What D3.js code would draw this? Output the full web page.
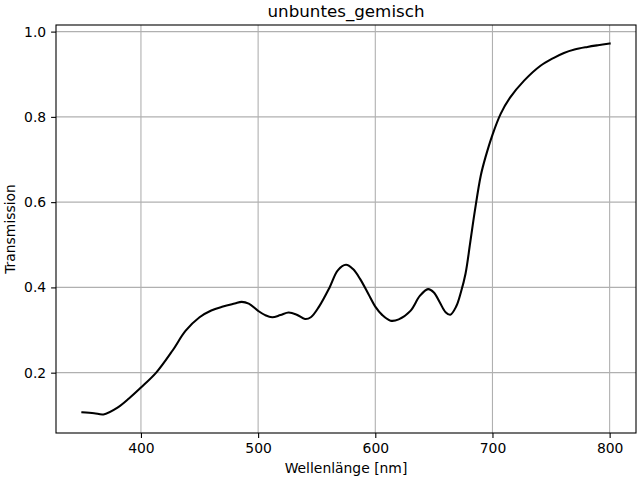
<!DOCTYPE html>
<meta charset="utf-8">
<style>
body { margin: 0; background: #fff; }
text { font-family: "DejaVu Sans", sans-serif; fill: #000; }
.grid line { stroke: #b0b0b0; stroke-width: 1.1px; }
.axis path { display: none; }
.axis line { stroke: #000; stroke-width: 1.1px; }
.axis text { font-size: 13.9px; }
</style>
<svg width="640" height="480"></svg>
<script src="https://d3js.org/d3.v7.min.js"></script>
<script>

var wavelength = [350, 360, 368, 380, 390, 400, 413, 427, 438, 450, 460, 470, 480, 486, 492,
  500, 506, 512, 519, 526, 533, 540, 545, 552, 561, 568, 575, 581, 587, 594,
  600, 606, 613, 620, 630, 638, 645, 650, 655, 660, 664, 669, 673, 677, 681, 685,
  690, 694, 700, 707, 715, 727, 741, 752, 761, 770, 781, 790, 800];

var transmission = [0.107, 0.105, 0.102, 0.118, 0.140, 0.165, 0.200, 0.252, 0.298, 0.330, 0.346, 0.355, 0.362, 0.366, 0.362,
  0.345, 0.335, 0.330, 0.335, 0.341, 0.336, 0.326, 0.330, 0.355, 0.400, 0.440, 0.453, 0.443, 0.420, 0.385,
  0.355, 0.335, 0.322, 0.325, 0.345, 0.380, 0.396, 0.388, 0.365, 0.342, 0.336, 0.355, 0.388, 0.432, 0.505, 0.580,
  0.662, 0.705, 0.758, 0.807, 0.845, 0.885, 0.920, 0.938, 0.950, 0.958, 0.964, 0.968, 0.972];

var xTicks = [400, 500, 600, 700, 800];
var yTicks = [0.2, 0.4, 0.6, 0.8, 1.0];

var title = "unbuntes_gemisch";
var xLabel = "Wellenlänge [nm]";
var yLabel = "Transmission";

var svg = d3.select("svg");
var margin = {left: 56, right: 4, top: 25, bottom: 47};
var width = 640 - margin.left - margin.right,
    height = 480 - margin.top - margin.bottom;

var data = wavelength.map(function(w, i) { return {x: w, y: transmission[i]}; });

// matplotlib-style 5% padding
var xMin = d3.min(wavelength), xMax = d3.max(wavelength);
var yMin = d3.min(transmission), yMax = d3.max(transmission);
var xPad = (xMax - xMin) * 0.05, yPad = (yMax - yMin) * 0.05;

var x = d3.scaleLinear().domain([xMin - xPad, xMax + xPad]).range([0, width]);
var y = d3.scaleLinear().domain([yMin - yPad, yMax + yPad]).range([height, 0]);

var g = svg.append("g").attr("transform", "translate(" + margin.left + "," + margin.top + ")");

// grid
g.append("g").attr("class", "grid")
  .selectAll("line.v").data(xTicks).enter().append("line")
    .attr("x1", function(d) { return x(d); }).attr("x2", function(d) { return x(d); })
    .attr("y1", 0).attr("y2", height);
g.append("g").attr("class", "grid")
  .selectAll("line.h").data(yTicks).enter().append("line")
    .attr("y1", function(d) { return y(d); }).attr("y2", function(d) { return y(d); })
    .attr("x1", 0).attr("x2", width);

// axes
g.append("g").attr("class", "axis")
    .attr("transform", "translate(0," + height + ")")
    .call(d3.axisBottom(x).tickValues(xTicks).tickSize(4.9).tickPadding(4.9).tickFormat(d3.format("d")));
g.append("g").attr("class", "axis")
    .call(d3.axisLeft(y).tickValues(yTicks).tickSize(4.9).tickPadding(4.9).tickFormat(d3.format(".1f")));

// curve
var line = d3.line()
    .x(function(d) { return x(d.x); })
    .y(function(d) { return y(d.y); })
    .curve(d3.curveCatmullRom);

g.append("path")
    .datum(data)
    .attr("fill", "none")
    .attr("stroke", "#000")
    .attr("stroke-width", 2.08)
    .attr("stroke-linejoin", "round")
    .attr("stroke-linecap", "square")
    .attr("d", line);

// frame
g.append("rect")
    .attr("width", width).attr("height", height)
    .attr("fill", "none").attr("stroke", "#000").attr("stroke-width", 1.1);

// labels
svg.append("text")
    .attr("x", margin.left + width / 2).attr("y", 17)
    .attr("text-anchor", "middle").style("font-size", "16.7px")
    .text(title);
svg.append("text")
    .attr("x", margin.left + width / 2).attr("y", 473)
    .attr("text-anchor", "middle").style("font-size", "13.9px")
    .text(xLabel);
svg.append("text")
    .attr("transform", "translate(15," + (margin.top + height / 2) + ") rotate(-90)")
    .attr("text-anchor", "middle").style("font-size", "13.9px")
    .text(yLabel);

</script>
